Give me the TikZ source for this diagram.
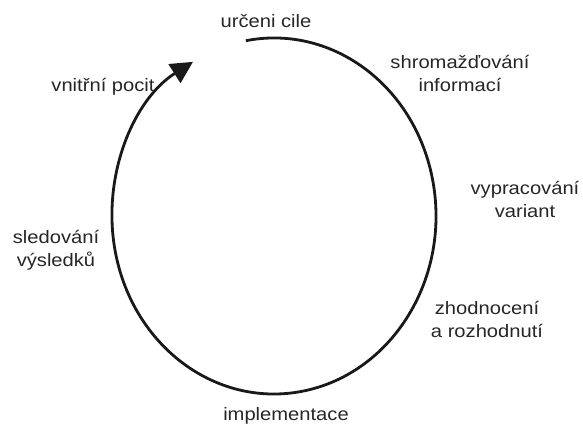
\documentclass[tikz,border=0pt]{standalone}
\usepackage{fontspec}
\setmainfont{Liberation Sans}[FakeStretch=1.12]
\usetikzlibrary{arrows.meta}

\begin{document}
\begin{tikzpicture}[x=1pt,y=1pt,
  lbl/.style={align=center, inner sep=0pt, anchor=base, text=black!85,
    font=\fontsize{18}{23}\selectfont},
  cycle/.style={line width=2.8pt, black!90,
    -{Triangle[length=22pt,width=22pt]}}]
  \useasboundingbox (0,0) rectangle (583,425);

  % the decision cycle: one clockwise arc ending in an arrowhead
  \coordinate (c) at (274,209);
  \draw[cycle] (c) ++(100:162 and 178)
    arc[start angle=100, end angle=-240, x radius=162, y radius=178];

  % stage labels around the cycle (base = baseline of the last line)
  \node[lbl] (cile) at (266,397) {určeni cile};
  \node[lbl] (info) at (460,333) {shromažďování\\informací};
  \node[lbl] (varianty) at (525,207) {vypracování\\variant};
  \node[lbl] (zhodnoceni) at (487,87) {zhodnocení\\a rozhodnutí};
  \node[lbl] (implementace) at (286,4) {implementace};
  \node[lbl] (sledovani) at (56,158) {sledování\\výsledků};
  \node[lbl] (pocit) at (103,333) {vnitřní pocit};
\end{tikzpicture}
\end{document}
